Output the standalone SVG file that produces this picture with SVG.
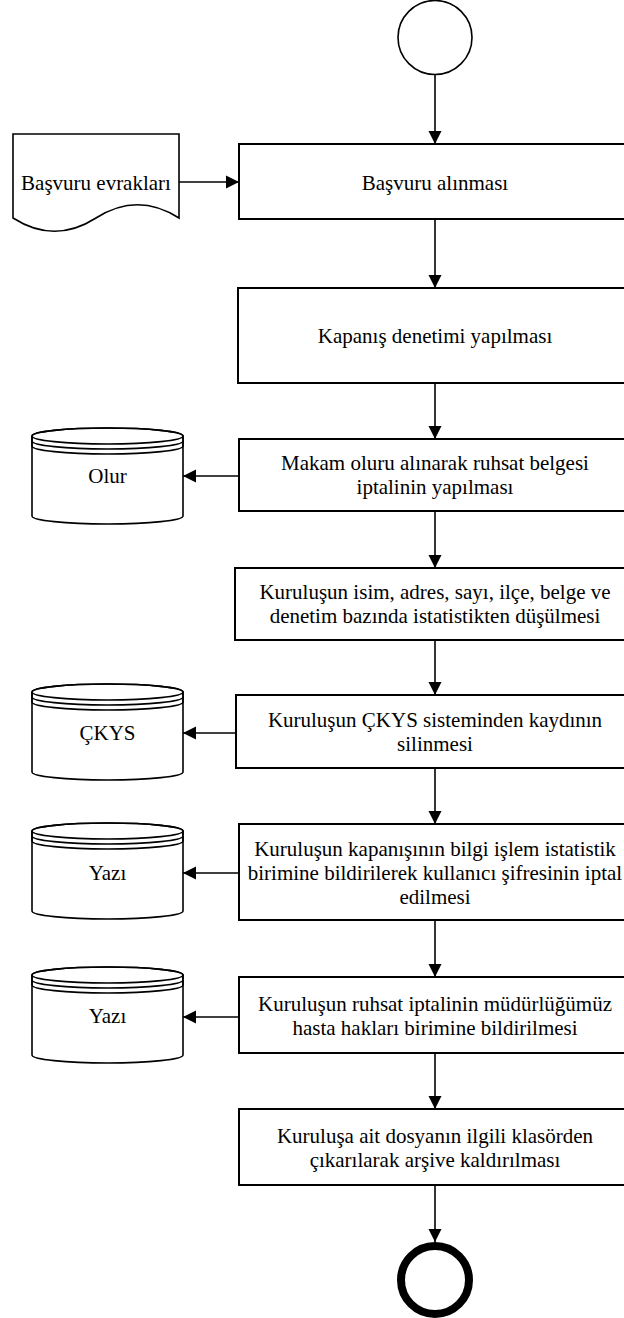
<svg xmlns="http://www.w3.org/2000/svg" width="624" height="1318" viewBox="0 0 624 1318">
  <style>
    .box { fill: #ffffff; stroke: #000000; stroke-width: 2; }
    .shape { fill: #ffffff; stroke: #000000; stroke-width: 1.6; }
    .ring { fill: none; stroke: #000000; stroke-width: 1.6; }
    .edge { fill: none; stroke: #000000; stroke-width: 1.6; marker-end: url(#arrow); }
    .lbl { font-family: "Liberation Serif", "Times New Roman", serif; font-size: 21px; fill: #000000; text-anchor: middle; }
  </style>
  <defs>
    <marker id="arrow" markerUnits="userSpaceOnUse" markerWidth="14" markerHeight="14" viewBox="0 0 14 14" refX="13" refY="7" orient="auto">
      <path d="M0,0.5 L13,7 L0,13.5 Z" fill="#000000"/>
    </marker>
    <!-- data store: cylinder with two extra rims under the lid, 151 x 96 -->
    <g id="store">
      <path class="shape" d="M0,8 A75.5,8 0 0 1 151,8 V88 A75.5,8 0 0 1 0,88 Z"/>
      <ellipse class="ring" cx="75.5" cy="8" rx="75.5" ry="8"/>
      <path class="ring" d="M0,8 V13 A75.5,8 0 0 0 151,13 V8"/>
      <path class="ring" d="M0,13 V18 A75.5,8 0 0 0 151,18 V13"/>
    </g>
  </defs>

  <!-- connectors -->
  <g id="connectors">
    <line class="edge" x1="435" y1="75" x2="435" y2="144"/>
    <line class="edge" x1="179" y1="182" x2="239" y2="182"/>
    <line class="edge" x1="435" y1="219" x2="435" y2="288"/>
    <line class="edge" x1="435" y1="383" x2="435" y2="439"/>
    <line class="edge" x1="239" y1="476" x2="183" y2="476"/>
    <line class="edge" x1="435" y1="511" x2="435" y2="568"/>
    <line class="edge" x1="435" y1="640" x2="435" y2="695"/>
    <line class="edge" x1="236" y1="733" x2="183" y2="733"/>
    <line class="edge" x1="435" y1="768" x2="435" y2="824"/>
    <line class="edge" x1="239" y1="873" x2="183" y2="873"/>
    <line class="edge" x1="435" y1="920" x2="435" y2="977"/>
    <line class="edge" x1="239" y1="1017" x2="183" y2="1017"/>
    <line class="edge" x1="435" y1="1053" x2="435" y2="1109"/>
    <line class="edge" x1="435" y1="1185" x2="435" y2="1242"/>
  </g>

  <!-- start event -->
  <g id="start">
    <circle class="shape" cx="435" cy="37.5" r="37"/>
  </g>

  <!-- input document -->
  <g id="doc-basvuru-evraklari">
    <path class="shape" d="M13,134 H179 V218 Q137.5,191.5 96,218 Q54.5,244.5 13,218 Z"/>
    <text class="lbl" x="96" y="190">Başvuru evrakları</text>
  </g>

  <!-- process steps -->
  <g id="step-basvuru">
    <rect class="box" x="239" y="144" width="393" height="75"/>
    <text class="lbl" x="435" y="190">Başvuru alınması</text>
  </g>

  <g id="step-kapanis-denetimi">
    <rect class="box" x="238" y="288" width="394" height="95"/>
    <text class="lbl" x="435" y="343">Kapanış denetimi yapılması</text>
  </g>

  <g id="step-makam-oluru">
    <rect class="box" x="239" y="439" width="393" height="72"/>
    <text class="lbl" x="435" y="470">Makam oluru alınarak ruhsat belgesi</text>
    <text class="lbl" x="435" y="494">iptalinin yapılması</text>
  </g>

  <g id="step-istatistik">
    <rect class="box" x="235" y="568" width="400" height="72"/>
    <text class="lbl" x="435" y="599">Kuruluşun isim, adres, sayı, ilçe, belge ve</text>
    <text class="lbl" x="435" y="623">denetim bazında istatistikten düşülmesi</text>
  </g>

  <g id="step-ckys">
    <rect class="box" x="236" y="695" width="398" height="73"/>
    <text class="lbl" x="435" y="727">Kuruluşun ÇKYS sisteminden kaydının</text>
    <text class="lbl" x="435" y="751">silinmesi</text>
  </g>

  <g id="step-bilgi-islem">
    <rect class="box" x="239" y="824" width="393" height="96"/>
    <text class="lbl" x="435" y="856">Kuruluşun kapanışının bilgi işlem istatistik</text>
    <text class="lbl" x="435" y="880">birimine bildirilerek kullanıcı şifresinin iptal</text>
    <text class="lbl" x="435" y="904">edilmesi</text>
  </g>

  <g id="step-hasta-haklari">
    <rect class="box" x="239" y="977" width="393" height="76"/>
    <text class="lbl" x="435" y="1011">Kuruluşun ruhsat iptalinin müdürlüğümüz</text>
    <text class="lbl" x="435" y="1035">hasta hakları birimine bildirilmesi</text>
  </g>

  <g id="step-arsiv">
    <rect class="box" x="239" y="1109" width="393" height="76"/>
    <text class="lbl" x="435" y="1143">Kuruluşa ait dosyanın ilgili klasörden</text>
    <text class="lbl" x="435" y="1167">çıkarılarak arşive kaldırılması</text>
  </g>

  <!-- data stores -->
  <g id="store-olur">
    <use href="#store" x="32" y="428"/>
    <text class="lbl" x="107.5" y="483">Olur</text>
  </g>

  <g id="store-ckys">
    <use href="#store" x="32" y="684"/>
    <text class="lbl" x="107.5" y="740">ÇKYS</text>
  </g>

  <g id="store-yazi-1">
    <use href="#store" x="32" y="823"/>
    <text class="lbl" x="107.5" y="880">Yazı</text>
  </g>

  <g id="store-yazi-2">
    <use href="#store" x="32" y="967"/>
    <text class="lbl" x="107.5" y="1023">Yazı</text>
  </g>

  <!-- end event -->
  <g id="end">
    <circle cx="435" cy="1280" r="34" fill="#ffffff" stroke="#000000" stroke-width="8"/>
  </g>
</svg>
